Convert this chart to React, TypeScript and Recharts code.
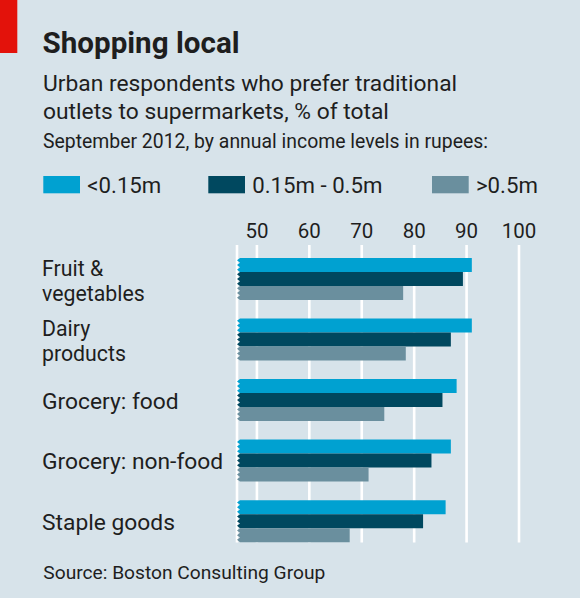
import React from 'react';
import { BarChart, Bar, XAxis, YAxis, CartesianGrid, Legend } from 'recharts';

const categories = ['Fruit &\nvegetables', 'Dairy\nproducts', 'Grocery: food', 'Grocery: non-food', 'Staple goods'];
const lowIncome = [91, 91, 88.1, 87, 86];
const midIncome = [89.3, 87, 85.4, 83.3, 81.7];
const highIncome = [77.9, 78.4, 74.3, 71.3, 67.7];
const seriesNames = ['<0.15m', '0.15m - 0.5m', '>0.5m'];
const xTicks = [50, 60, 70, 80, 90, 100];
const xDomain: [number, number] = [46.2, 100];

const data = categories.map((c, i) => ({
  category: c,
  low: lowIncome[i],
  mid: midIncome[i],
  high: highIncome[i],
}));

const BG = '#d7e3ea';
const RED = '#e3120b';
const C_LOW = '#00a1d1';
const C_MID = '#00485f';
const C_HIGH = '#6a8f9e';
const TEXT = '#1e1e1e';
const FONT = 'Roboto, sans-serif';

function ZigBar(props: any) {
  const { x, y, width, height, fill } = props;
  if (!width || width <= 0) return null;
  const a = 3;
  const n = 3;
  let d = `M${x + width},${y} L${x + a},${y}`;
  for (let i = 0; i < n; i++) {
    d += ` L${x},${y + ((i + 0.5) * height) / n} L${x + a},${y + ((i + 1) * height) / n}`;
  }
  d += ` L${x + width},${y + height} Z`;
  return <path d={d} fill={fill} />;
}

function XTick(props: any) {
  const { x, y, payload } = props;
  return (
    <text x={x} y={y} dy={-3.5} textAnchor="middle" fontFamily={FONT} fontSize={20.5} fill={TEXT}>
      {payload.value}
    </text>
  );
}

function YTick(props: any) {
  const { y, payload } = props;
  const lines = String(payload.value).split('\n');
  const multi = lines.length > 1;
  const first = multi ? -3.5 : 8.5;
  const step = 25;
  const size = multi ? 21.3 : 22.8;
  return (
    <g>
      {lines.map((l, i) => (
        <text key={i} x={42} y={y + first + i * step} textAnchor="start" fontFamily={FONT} fontSize={size} fill={TEXT}>
          {l}
        </text>
      ))}
    </g>
  );
}

function LegendContent(props: any) {
  const payload = [...(props.payload || [])].sort(
    (a: any, b: any) => seriesNames.indexOf(a.value) - seriesNames.indexOf(b.value)
  );
  const xs = [43.3, 208.3, 432];
  return (
    <svg width={580} height={40} style={{ display: 'block' }}>
      {payload.map((p: any, i: number) => (
        <g key={i}>
          <rect x={xs[i]} y={11} width={36.7} height={17.3} fill={p.color} />
          <text x={xs[i] + 44} y={28.3} fontFamily={FONT} fontSize={22.2} fill={TEXT}>
            {p.value}
          </text>
        </g>
      ))}
    </svg>
  );
}

export default function App() {
  return (
    <div style={{ position: 'fixed', left: 0, top: 0, width: 580, height: 598, background: BG, overflow: 'hidden' }}>
      <svg width={580} height={598} style={{ position: 'absolute', left: 0, top: 0 }}>
        <rect x={0} y={0} width={17.3} height={53} fill={RED} />
        <text x={42.5} y={53.3} fontFamily={FONT} fontWeight="bold" fontSize={29.6} fill={TEXT}>
          Shopping local
        </text>
        <text x={43} y={90.5} fontFamily={FONT} fontSize={22.8} fill={TEXT}>
          Urban respondents who prefer traditional
        </text>
        <text x={43} y={119.2} fontFamily={FONT} fontSize={22.8} fill={TEXT}>
          outlets to supermarkets, % of total
        </text>
        <text x={43} y={147.5} fontFamily={FONT} fontSize={19.4} fill={TEXT}>
          September 2012, by annual income levels in rupees:
        </text>
        <text x={43.3} y={579.3} fontFamily={FONT} fontSize={19.2} fill={TEXT}>
          Source: Boston Consulting Group
        </text>
      </svg>
      <div style={{ position: 'absolute', left: 0, top: 0 }}>
        <BarChart
          width={580}
          height={598}
          data={data}
          layout="vertical"
          margin={{ top: 219, right: 61, bottom: 46.3, left: 0 }}
          barGap={0}
          barCategoryGap={9}
        >
          <CartesianGrid horizontal={false} y={245} height={297.5} stroke="#ffffff" strokeWidth={2.6} />
          <XAxis
            type="number"
            orientation="top"
            domain={xDomain}
            ticks={xTicks}
            allowDataOverflow
            axisLine={false}
            tickLine={false}
            height={30}
            interval={0}
            tick={<XTick />}
          />
          <YAxis
            type="category"
            dataKey="category"
            width={237}
            axisLine={false}
            tickLine={false}
            interval={0}
            tick={<YTick />}
          />
          <Legend
            layout="horizontal"
            verticalAlign="middle"
            align="center"
            content={<LegendContent />}
            wrapperStyle={{ position: 'absolute', top: 165, left: 0, width: 580, height: 40 }}
          />
          <Bar dataKey="low" name={seriesNames[0]} fill={C_LOW} shape={<ZigBar />} isAnimationActive={false} />
          <Bar dataKey="mid" name={seriesNames[1]} fill={C_MID} shape={<ZigBar />} isAnimationActive={false} />
          <Bar dataKey="high" name={seriesNames[2]} fill={C_HIGH} shape={<ZigBar />} isAnimationActive={false} />
        </BarChart>
      </div>
    </div>
  );
}
